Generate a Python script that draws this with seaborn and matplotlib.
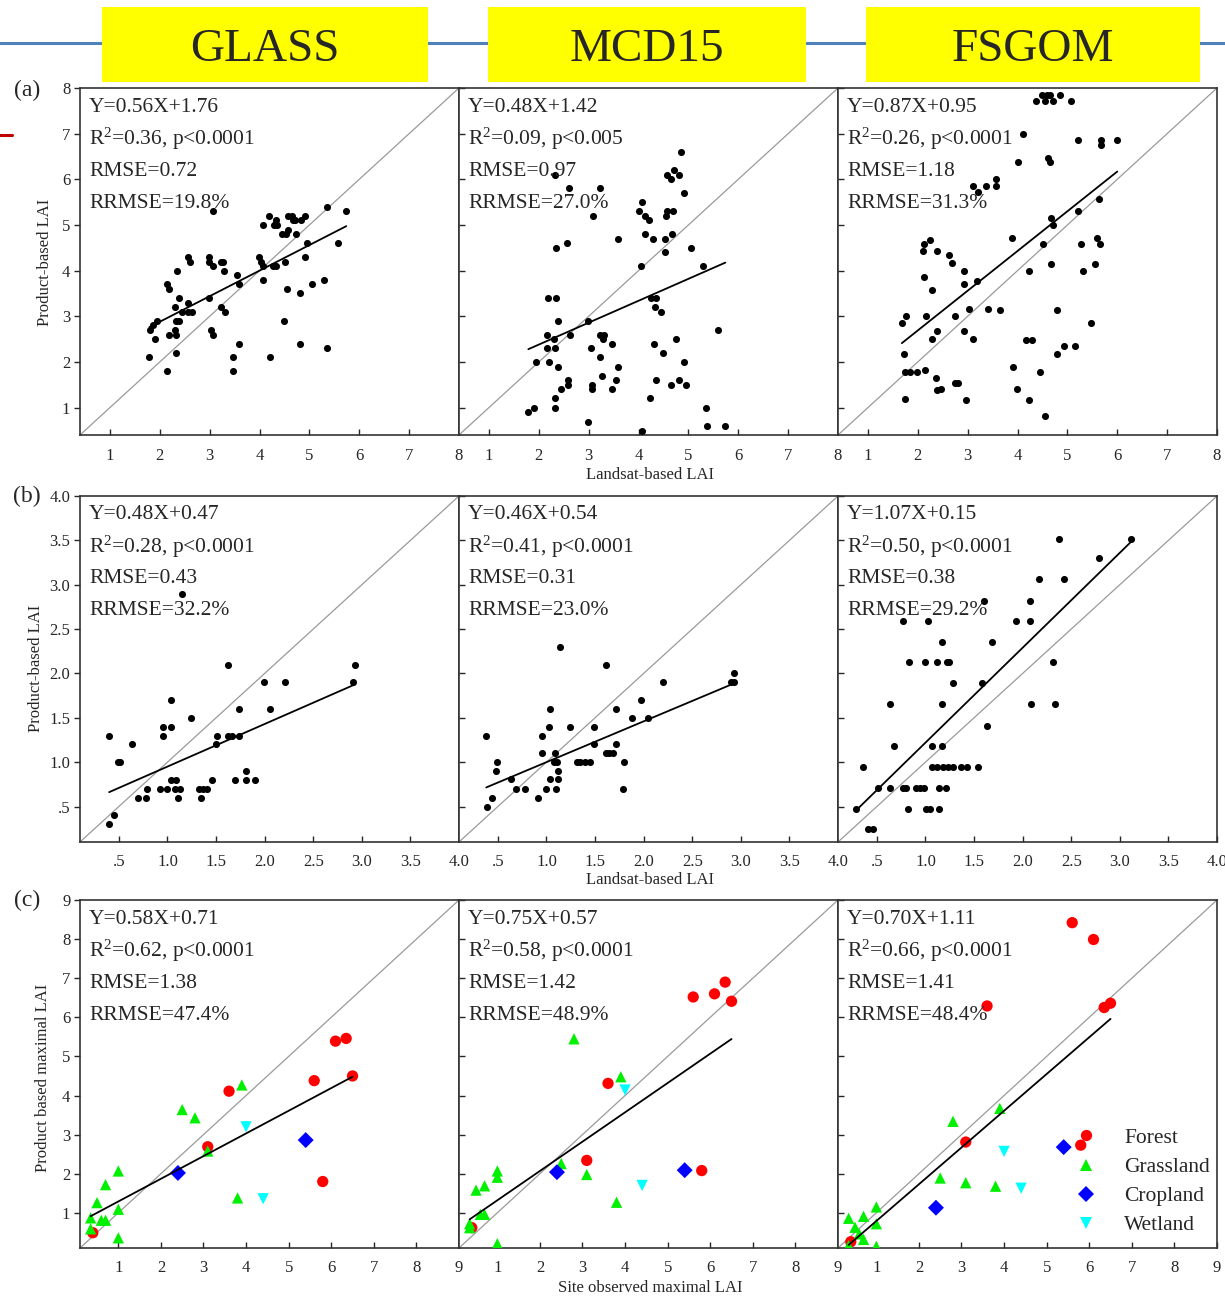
import matplotlib
matplotlib.use("Agg")
import matplotlib.pyplot as plt
from matplotlib.patches import Rectangle
from matplotlib.lines import Line2D
import seaborn as sns
import pandas as pd
import numpy as np

###############
# Data
###############
products = ["GLASS", "MCD15", "FSGOM"]

# (a) Landsat-based LAI vs product LAI
glass_a_x = [1.79, 1.80, 1.87, 1.94, 1.91, 2.15, 2.18, 2.15, 2.19, 2.31, 2.35, 2.38, 2.30, 2.32, 2.33,
             2.32, 2.39, 2.44, 2.56, 2.57, 2.60, 2.57, 2.64, 2.98, 2.99, 2.98, 3.06, 3.03, 3.07, 3.07,
             3.22, 3.26, 3.28, 3.22, 3.30, 3.54, 3.58, 3.58, 3.46, 3.46, 3.99, 4.03, 4.07, 4.06, 4.06,
             4.19, 4.22, 4.29, 4.33, 4.36, 4.27, 4.34, 4.45, 4.53, 4.57, 4.57, 4.65, 4.67, 4.71, 4.74,
             4.83, 4.91, 4.51, 4.55, 4.50, 4.82, 4.82, 4.95, 4.91, 5.05, 5.30, 5.36, 5.36, 5.58, 5.74]
glass_a_y = [2.1, 2.7, 2.8, 2.9, 2.5, 3.7, 3.6, 1.8, 2.6, 3.2, 4.0, 3.4, 2.7, 2.6, 2.2,
             2.9, 2.9, 3.1, 3.3, 4.3, 4.2, 3.1, 3.1, 4.3, 4.2, 3.4, 4.1, 2.7, 2.6, 5.3,
             4.2, 4.2, 4.0, 3.2, 3.1, 3.9, 3.7, 2.4, 2.1, 1.8, 4.3, 4.2, 4.1, 5.0, 3.8,
             5.2, 2.1, 5.0, 5.1, 5.0, 4.1, 4.1, 4.8, 4.8, 4.9, 5.2, 5.2, 5.1, 5.1, 4.8,
             5.1, 5.2, 4.2, 3.6, 2.9, 3.5, 2.4, 4.6, 4.3, 3.7, 3.8, 2.3, 5.4, 4.6, 5.3]

mcd_a_x = [1.79, 1.91, 1.95, 2.16, 2.16, 2.20, 2.18, 2.35, 2.32, 2.35, 2.39, 2.31, 2.33, 2.39, 2.33,
           2.32, 2.45, 2.57, 2.61, 2.58, 2.58, 2.63, 2.99, 2.99, 3.05, 3.07, 3.07, 3.08, 3.22, 3.23,
           3.31, 3.29, 3.23, 3.26, 3.47, 3.47, 3.55, 3.59, 3.59, 4.00, 4.07, 4.12, 4.20, 4.12, 4.29,
           4.04, 4.25, 4.36, 4.33, 4.46, 4.32, 4.49, 4.36, 4.23, 4.06, 4.53, 4.53, 4.57, 4.56, 4.67,
           4.69, 4.57, 4.66, 4.71, 4.81, 4.85, 4.92, 4.75, 4.92, 4.66, 4.81, 4.95, 5.06, 5.29, 5.35,
           5.37, 5.59, 5.74]
mcd_a_y = [0.90, 0.99, 2.0, 2.6, 2.3, 2.0, 3.4, 3.4, 6.1, 4.5, 2.9, 2.5, 2.3, 1.9, 1.2,
           1.0, 1.4, 4.6, 5.8, 1.6, 1.5, 2.6, 2.9, 0.69, 2.3, 1.5, 1.4, 5.2, 5.8, 2.6,
           2.6, 2.5, 2.1, 1.7, 2.4, 1.4, 1.6, 1.9, 4.7, 5.3, 5.5, 5.2, 5.1, 4.8, 4.7,
           4.1, 3.4, 3.4, 3.2, 3.1, 2.4, 2.2, 1.6, 1.2, 0.49, 4.7, 4.4, 5.3, 5.2, 4.8,
           5.3, 6.1, 6.0, 6.2, 6.1, 6.6, 5.7, 2.5, 2.0, 1.5, 1.6, 1.5, 4.5, 4.1, 1.0,
           0.6, 2.7, 0.6]

fsgom_a_x = [1.68, 1.77, 1.72, 1.75, 1.84, 1.99, 1.75, 2.11, 2.13, 2.24, 2.39, 2.12, 2.28, 2.17, 2.15,
             2.29, 2.39, 2.37, 2.39, 2.47, 2.63, 2.69, 2.92, 2.93, 2.74, 2.75, 2.81, 2.92, 2.97, 3.03,
             3.11, 3.19, 3.11, 3.21, 3.37, 3.57, 3.57, 3.40, 3.64, 3.89, 4.01, 4.10, 3.90, 3.99, 4.17,
             4.29, 4.24, 4.23, 4.37, 4.50, 4.56, 4.59, 4.65, 4.71, 4.85, 5.07, 4.61, 4.65, 4.67, 4.72,
             4.51, 4.67, 4.45, 4.55, 4.80, 4.79, 4.93, 5.15, 5.22, 5.21, 5.28, 5.31, 5.47, 5.56, 5.59,
             5.65, 5.63, 5.67, 5.67, 6.00]
fsgom_a_y = [2.85, 3.0, 2.17, 1.77, 1.77, 1.77, 1.18, 4.44, 4.58, 4.68, 4.44, 3.85, 3.57, 3.0, 1.83,
             2.5, 2.67, 1.64, 1.38, 1.41, 4.34, 4.17, 4.0, 3.7, 3.0, 1.53, 1.53, 2.67, 1.17, 3.16,
             2.5, 3.77, 5.86, 5.72, 5.86, 6.01, 5.86, 3.16, 3.14, 4.71, 6.38, 7.0, 1.88, 1.41, 2.47,
             2.47, 4.0, 1.17, 7.72, 7.85, 7.72, 7.85, 7.85, 7.72, 7.85, 7.72, 6.47, 6.38, 5.15, 5.01,
             4.58, 4.15, 1.77, 0.82, 3.14, 2.17, 2.35, 2.34, 6.87, 5.3, 4.58, 4.0, 2.85, 4.15, 4.72,
             4.58, 5.57, 6.87, 6.76, 6.87]

# (b) Landsat-based LAI vs product LAI
glass_b_x = [0.40, 0.40, 0.45, 0.49, 0.51, 0.64, 0.70, 0.78, 0.79, 0.92, 1.00, 0.95, 0.95, 1.04, 1.04,
             1.04, 1.09, 1.08, 1.11, 1.13, 1.15, 1.24, 1.32, 1.35, 1.37, 1.41, 1.46, 1.50, 1.51, 1.62,
             1.62, 1.66, 1.70, 1.74, 1.74, 1.81, 1.81, 1.90, 1.99, 2.05, 2.21, 2.91, 2.93]
glass_b_y = [1.30, 0.30, 0.40, 1.00, 1.00, 1.20, 0.60, 0.60, 0.70, 0.70, 0.70, 1.30, 1.40, 1.40, 1.70,
             0.80, 0.80, 0.70, 0.60, 0.70, 2.90, 1.50, 0.70, 0.60, 0.70, 0.70, 0.80, 1.20, 1.30, 2.10,
             1.30, 1.30, 0.80, 1.60, 1.30, 0.90, 0.80, 0.80, 1.90, 1.60, 1.90, 1.90, 2.10]

mcd_b_x = [0.38, 0.39, 0.44, 0.48, 0.49, 0.64, 0.69, 0.78, 0.91, 0.95, 0.95, 1.00, 1.03, 1.04, 1.04,
           1.09, 1.08, 1.11, 1.10, 1.12, 1.12, 1.14, 1.24, 1.31, 1.35, 1.40, 1.45, 1.49, 1.49, 1.61,
           1.61, 1.64, 1.68, 1.72, 1.72, 1.80, 1.79, 1.88, 1.97, 2.04, 2.20, 2.90, 2.93, 2.93]
mcd_b_y = [1.30, 0.50, 0.60, 0.90, 1.00, 0.81, 0.70, 0.70, 0.60, 1.30, 1.10, 0.70, 1.40, 1.60, 0.81,
           1.10, 1.00, 1.00, 0.70, 0.90, 0.81, 2.30, 1.40, 1.00, 1.00, 1.00, 1.00, 1.40, 1.20, 2.10,
           1.10, 1.10, 1.10, 1.60, 1.20, 1.00, 0.70, 1.50, 1.70, 1.50, 1.90, 1.90, 1.90, 2.00]

fsgom_b_x = [0.29, 0.36, 0.41, 0.46, 0.51, 0.63, 0.64, 0.68, 0.77, 0.80, 0.77, 0.82, 0.83, 0.90, 0.94,
             0.98, 1.00, 1.01, 1.05, 1.03, 1.07, 1.07, 1.12, 1.12, 1.14, 1.14, 1.17, 1.17, 1.17, 1.18,
             1.21, 1.22, 1.24, 1.23, 1.28, 1.28, 1.37, 1.43, 1.54, 1.58, 1.60, 1.63, 1.68, 1.93, 2.08,
             2.08, 2.09, 2.17, 2.31, 2.33, 2.37, 2.43, 2.79, 3.11]
fsgom_b_y = [0.47, 0.95, 0.25, 0.25, 0.71, 0.71, 1.65, 1.18, 0.71, 0.71, 2.59, 0.47, 2.13, 0.71, 0.71,
             0.71, 2.13, 0.47, 0.47, 2.59, 1.18, 0.95, 0.95, 2.13, 0.71, 0.47, 2.35, 1.65, 1.18, 0.95,
             0.71, 2.13, 2.13, 0.95, 0.95, 1.89, 0.95, 0.95, 0.95, 1.89, 2.82, 1.41, 2.35, 2.59, 2.82,
             2.59, 1.65, 3.06, 2.13, 1.65, 3.52, 3.06, 3.30, 3.52]

# (c) site observed maximal LAI vs product maximal LAI, by land cover
cover_types = ["Forest", "Grassland", "Cropland", "Wetland"]
cover_colors = ["#FF0000", "#00F000", "#0000FF", "#00FFFF"]
cover_markers = ["o", "^", "D", "v"]

forest_x = [0.40, 3.10, 3.60, 5.60, 5.80, 6.10, 6.35, 6.50]
forest_glass = [0.49, 2.69, 4.11, 4.38, 1.80, 5.39, 5.46, 4.50]
forest_mcd = [0.62, 2.34, 4.31, 6.52, 2.08, 6.60, 6.90, 6.41]
forest_fsgom = [0.26, 2.81, 6.29, 8.42, 2.73, 7.99, 6.25, 6.36]

grass_x = [0.35, 0.35, 0.50, 0.60, 0.70, 0.70, 1.00, 1.00, 1.00, 2.50, 2.80, 3.10, 3.80, 3.90]
grass_glass = [0.59, 0.87, 1.26, 0.81, 0.81, 1.72, 1.09, 2.07, 0.36, 3.64, 3.43, 2.58, 1.38, 4.27]
grass_mcd = [0.72, 0.62, 1.58, 0.96, 0.96, 1.69, 2.07, 1.91, 0.21, 2.26, 5.45, 1.98, 1.27, 4.48]
grass_fsgom = [0.86, 0.16, 0.63, 0.46, 0.91, 0.32, 1.15, 0.72, 0.14, 1.89, 3.34, 1.77, 1.68, 3.67]

crop_x = [2.40, 5.40]
crop_glass = [2.02, 2.86]
crop_mcd = [2.04, 2.09]
crop_fsgom = [1.13, 2.68]

wet_x = [4.00, 4.40]
wet_glass = [3.20, 1.36]
wet_mcd = [4.14, 1.70]
wet_fsgom = [2.57, 1.63]

# regression lines drawn in each panel (slope, intercept)
fit_a = [(0.56, 1.76), (0.48, 1.42), (0.87, 0.95)]
fit_b = [(0.48, 0.47), (0.46, 0.54), (1.07, 0.15)]
fit_c = [(0.58, 0.71), (0.75, 0.57), (0.94, -0.15)]

stats_a = [["Y=0.56X+1.76", "R$^2$=0.36, p<0.0001", "RMSE=0.72", "RRMSE=19.8%"],
           ["Y=0.48X+1.42", "R$^2$=0.09, p<0.005", "RMSE=0.97", "RRMSE=27.0%"],
           ["Y=0.87X+0.95", "R$^2$=0.26, p<0.0001", "RMSE=1.18", "RRMSE=31.3%"]]
stats_b = [["Y=0.48X+0.47", "R$^2$=0.28, p<0.0001", "RMSE=0.43", "RRMSE=32.2%"],
           ["Y=0.46X+0.54", "R$^2$=0.41, p<0.0001", "RMSE=0.31", "RRMSE=23.0%"],
           ["Y=1.07X+0.15", "R$^2$=0.50, p<0.0001", "RMSE=0.38", "RRMSE=29.2%"]]
stats_c = [["Y=0.58X+0.71", "R$^2$=0.62, p<0.0001", "RMSE=1.38", "RRMSE=47.4%"],
           ["Y=0.75X+0.57", "R$^2$=0.58, p<0.0001", "RMSE=1.42", "RRMSE=48.9%"],
           ["Y=0.70X+1.11", "R$^2$=0.66, p<0.0001", "RMSE=1.41", "RRMSE=48.4%"]]

ticks_a = [1, 2, 3, 4, 5, 6, 7, 8]
ticks_b = [0.5, 1.0, 1.5, 2.0, 2.5, 3.0, 3.5, 4.0]
ticklabels_b = [".5", "1.0", "1.5", "2.0", "2.5", "3.0", "3.5", "4.0"]
ticks_c = [1, 2, 3, 4, 5, 6, 7, 8, 9]

###############
# Style
###############
sns.set_style("ticks")
plt.rcParams["font.family"] = ["Liberation Serif", "DejaVu Serif"]
plt.rcParams["mathtext.fontset"] = "custom"
plt.rcParams["mathtext.rm"] = "Liberation Serif"
plt.rcParams["mathtext.it"] = "Liberation Serif:italic"

W, H = 1225, 1297
fig = plt.figure(figsize=(W / 100, H / 100), dpi=100)


def box(l, t, r, b):
    return [l / W, 1 - b / H, (r - l) / W, (b - t) / H]


col_edges = [80, 459, 838, 1217]
row_edges = [(88, 435), (496, 842), (900, 1248)]

# header decoration (slide line behind the yellow title boxes)
fig.add_artist(Line2D([0, 1], [1 - 43 / H] * 2, color="#4F81BD", lw=2.2, zorder=0))
fig.add_artist(Line2D([0, 12 / W], [1 - 135 / H] * 2, color="#C00000", lw=2.2, zorder=0))
for name, (l, r) in zip(products, [(102, 428), (488, 806), (866, 1200)]):
    fig.add_artist(Rectangle((l / W, 1 - 82 / H), (r - l) / W, 75 / H, zorder=2,
                             facecolor="#FFFF00", edgecolor="none", transform=fig.transFigure))
    fig.text((l + r) / 2 / W, 1 - 50 / H, name, ha="center", va="center", fontsize=34, zorder=3)


def style_axes(ax, col, lim, ticks, ticklabels):
    ax.set_xlim(lim)
    ax.set_ylim(lim)
    ax.set_xticks(ticks)
    ax.set_yticks(ticks)
    ax.set_xticklabels(ticklabels)
    ax.set_yticklabels(ticklabels)
    ax.set_xlabel("")
    ax.set_ylabel("")
    ax.tick_params(axis="x", direction="in", length=4, width=1, labelsize=12, pad=9)
    if col == 0:
        ax.tick_params(axis="y", direction="out", length=4, width=1, labelsize=12, pad=3)
    else:
        ax.tick_params(axis="y", direction="in", length=4, width=1, labelleft=False)
    for sp in ax.spines.values():
        sp.set_color("#333333")
        sp.set_linewidth(1.2)


def add_stats(ax, lines):
    for k, s in enumerate(lines):
        ax.text(9 / 379, 1 - (19 + 32 * k) / 347, s, transform=ax.transAxes,
                ha="left", va="center", fontsize=15.5, zorder=5)


def add_fit(ax, xs, fit):
    xf = np.array([min(xs), max(xs)])
    ax.plot(xf, fit[0] * xf + fit[1], color="black", lw=1.3, zorder=4)


# rows (a) and (b)
rows_ab = [
    ((0.4, 8.0), ticks_a, [str(t) for t in ticks_a],
     [(glass_a_x, glass_a_y), (mcd_a_x, mcd_a_y), (fsgom_a_x, fsgom_a_y)], fit_a, stats_a),
    ((0.1, 4.0), ticks_b, ticklabels_b,
     [(glass_b_x, glass_b_y), (mcd_b_x, mcd_b_y), (fsgom_b_x, fsgom_b_y)], fit_b, stats_b),
]
for i, (lim, ticks, tlabels, data, fits, stats) in enumerate(rows_ab):
    top, bot = row_edges[i]
    for j in range(3):
        ax = fig.add_axes(box(col_edges[j], top, col_edges[j + 1], bot))
        ax.plot(lim, lim, color="#9A9A9A", lw=0.9, zorder=1)
        xs, ys = data[j]
        sns.scatterplot(x=xs, y=ys, color="black", s=26, linewidth=0, ax=ax, zorder=3)
        add_fit(ax, xs, fits[j])
        add_stats(ax, stats[j])
        style_axes(ax, j, lim, ticks, tlabels)

# row (c)
site_x = {"Forest": forest_x, "Grassland": grass_x, "Cropland": crop_x, "Wetland": wet_x}
prod_y = [
    {"Forest": forest_glass, "Grassland": grass_glass, "Cropland": crop_glass, "Wetland": wet_glass},
    {"Forest": forest_mcd, "Grassland": grass_mcd, "Cropland": crop_mcd, "Wetland": wet_mcd},
    {"Forest": forest_fsgom, "Grassland": grass_fsgom, "Cropland": crop_fsgom, "Wetland": wet_fsgom},
]
lim_c = (0.1, 9.0)
top, bot = row_edges[2]
for j in range(3):
    df = pd.concat([pd.DataFrame({"x": site_x[c], "y": prod_y[j][c], "cover": c}) for c in cover_types],
                   ignore_index=True)
    ax = fig.add_axes(box(col_edges[j], top, col_edges[j + 1], bot))
    ax.plot(lim_c, lim_c, color="#9A9A9A", lw=0.9, zorder=1)
    sns.scatterplot(data=df, x="x", y="y", hue="cover", style="cover", hue_order=cover_types,
                    style_order=cover_types, palette=dict(zip(cover_types, cover_colors)),
                    markers=dict(zip(cover_types, cover_markers)), s=66, linewidth=0,
                    legend=(j == 2), ax=ax, zorder=3)
    add_fit(ax, df["x"], fit_c[j])
    add_stats(ax, stats_c[j])
    style_axes(ax, j, lim_c, ticks_c, [str(t) for t in ticks_c])
    if j == 2:
        handles, labels = ax.get_legend_handles_labels()
        ax.legend(handles, labels, loc="upper left", bbox_to_anchor=(0.625, 0.345), frameon=False,
                  fontsize=15.5, handlelength=1.0, handletextpad=1.3, labelspacing=0.42,
                  borderpad=0, borderaxespad=0, markerscale=1.0)

# axis titles and row letters
fig.text(45 / W, 1 - 262 / H, "Product-based LAI", rotation=90, ha="center", va="center", fontsize=12)
fig.text(36 / W, 1 - 668 / H, "Product-based LAI", rotation=90, ha="center", va="center", fontsize=12)
fig.text(43 / W, 1 - 1078 / H, "Product based maximal LAI", rotation=90, ha="center", va="center", fontsize=12)
fig.text(650 / W, 1 - 475 / H, "Landsat-based LAI", ha="center", va="center", fontsize=12)
fig.text(650 / W, 1 - 880 / H, "Landsat-based LAI", ha="center", va="center", fontsize=12)
fig.text(650 / W, 1 - 1288 / H, "Site observed maximal LAI", ha="center", va="center", fontsize=12)
for lab, y in zip(["(a)", "(b)", "(c)"], [90, 496, 900]):
    fig.text(27 / W, 1 - y / H, lab, ha="center", va="center", fontsize=17)

fig.savefig("out.png", dpi=100)
